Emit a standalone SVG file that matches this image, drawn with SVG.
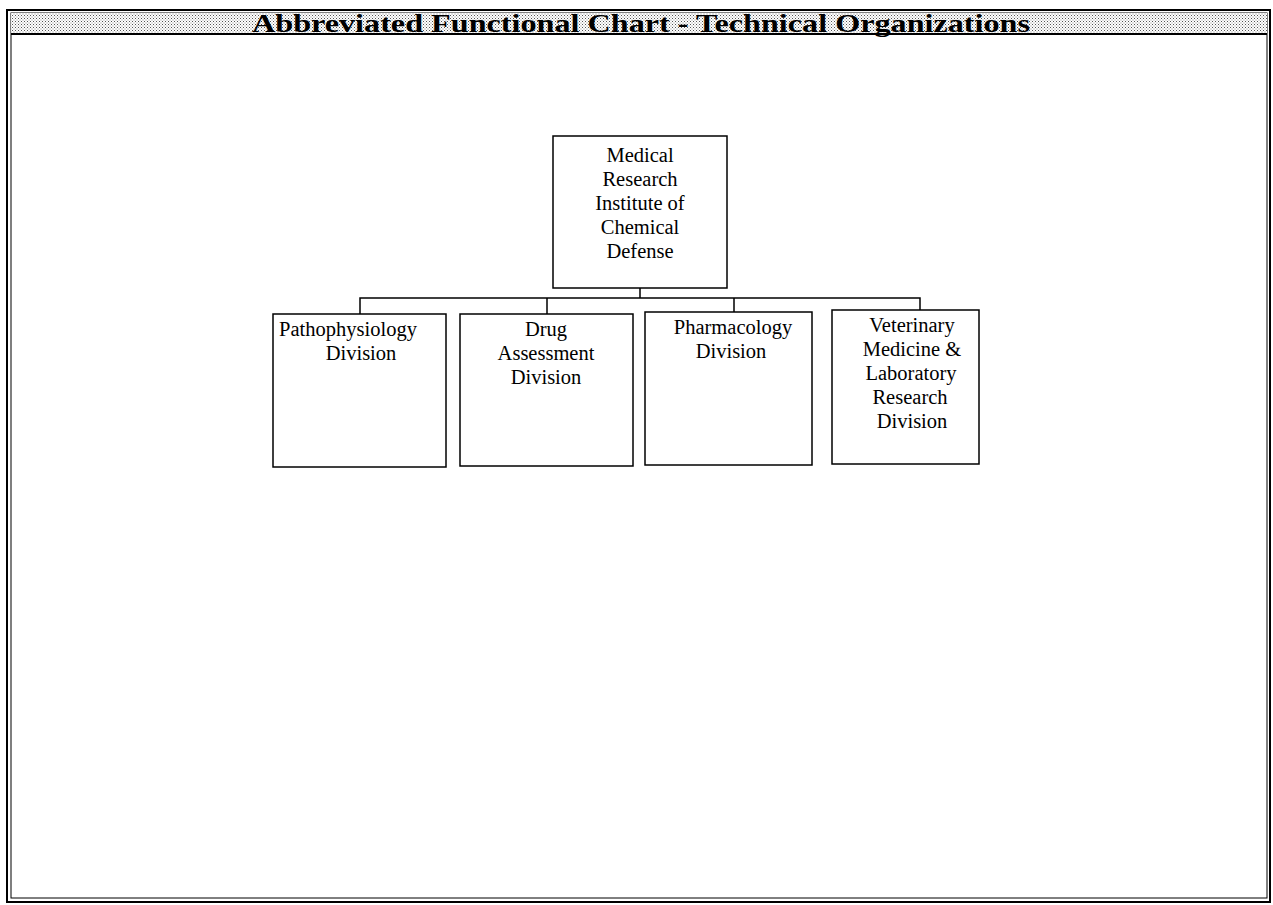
<svg xmlns="http://www.w3.org/2000/svg" width="1273" height="905" viewBox="0 0 1273 905">
<defs>
<pattern id="dots" width="3" height="3" patternUnits="userSpaceOnUse">
<rect width="3" height="3" fill="#ffffff"/>
<rect width="1" height="1" fill="#555"/>
<rect x="1.5" y="1.5" width="1" height="1" fill="#888"/>
</pattern>
<style>
.box{fill:#fff;stroke:#000;stroke-width:1.5}
.t{font-family:"Liberation Serif","Times New Roman",serif;font-size:20.5px;fill:#000;text-anchor:middle}
.conn{fill:none;stroke:#000;stroke-width:1.5}
</style>
</defs>
<rect width="1273" height="905" fill="#fff"/>
<g id="frame">
<rect x="7" y="10" width="1263" height="892" fill="none" stroke="#000" stroke-width="2"/>
<rect x="11" y="13" width="1256" height="885" fill="none" stroke="#000" stroke-width="1"/>
<rect x="11" y="13" width="1256" height="21" fill="url(#dots)"/>
<line x1="11" y1="34" x2="1267" y2="34" stroke="#000" stroke-width="2"/>
<text x="252" y="32" textLength="778" lengthAdjust="spacingAndGlyphs" style="font-family:'Liberation Serif','Times New Roman',serif;font-size:26px;font-weight:bold">Abbreviated Functional Chart - Technical Organizations</text>
</g>
<g id="connectors">
<path class="conn" d="M640 288 V298 M360 314 V298 H920 V310 M547 298 V314 M734 298 V312"/>
</g>
<g id="n_mricd">
<rect class="box" x="553" y="136" width="174" height="152"/>
<text class="t" x="640" y="162">Medical</text>
<text class="t" x="640" y="186">Research</text>
<text class="t" x="640" y="210">Institute of</text>
<text class="t" x="640" y="234">Chemical</text>
<text class="t" x="640" y="258">Defense</text>
</g>
<g id="n_patho">
<rect class="box" x="273" y="314" width="173" height="153"/>
<text class="t" x="348" y="336">Pathophysiology</text>
<text class="t" x="361" y="360">Division</text>
</g>
<g id="n_drug">
<rect class="box" x="460" y="314" width="173" height="152"/>
<text class="t" x="546" y="336">Drug</text>
<text class="t" x="546" y="360">Assessment</text>
<text class="t" x="546" y="384">Division</text>
</g>
<g id="n_pharm">
<rect class="box" x="645" y="312" width="167" height="153"/>
<text class="t" x="733" y="334">Pharmacology</text>
<text class="t" x="731" y="358">Division</text>
</g>
<g id="n_vet">
<rect class="box" x="832" y="310" width="147" height="154"/>
<text class="t" x="912" y="332">Veterinary</text>
<text class="t" x="912" y="356">Medicine &amp;</text>
<text class="t" x="911" y="380">Laboratory</text>
<text class="t" x="910" y="404">Research</text>
<text class="t" x="912" y="428">Division</text>
</g>
</svg>
